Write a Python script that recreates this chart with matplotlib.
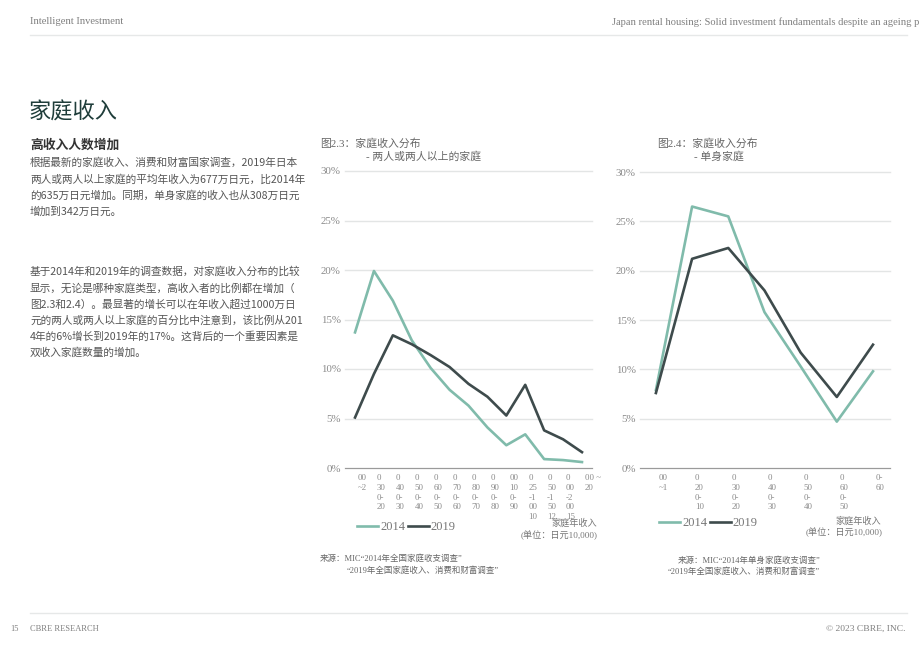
import numpy as np
import matplotlib.pyplot as plt
from matplotlib.transforms import blended_transform_factory, ScaledTranslation

# datos
bins_multi = ["00\n~2", "0\n30\n0-\n20", "0\n40\n0-\n30", "0\n50\n0-\n40", "0\n60\n0-\n50",
              "0\n70\n0-\n60", "0\n80\n0-\n70", "0\n90\n0-\n80", "00\n10\n0-\n90",
              "0\n25\n-1\n00\n10", "0\n50\n-1\n50\n12", "0\n00\n-2\n00\n15", "00 ~\n20"]
multi_2014 = [13.7, 19.9, 16.9, 12.9, 10.1, 7.9, 6.3, 4.1, 2.3, 3.4, 0.9, 0.8, 0.6]
multi_2019 = [5.1, 9.5, 13.4, 12.5, 11.4, 10.2, 8.5, 7.2, 5.3, 8.4, 3.8, 2.9, 1.6]

bins_single = ["00\n~1", "0\n20\n0-\n10", "0\n30\n0-\n20", "0\n40\n0-\n30",
               "0\n50\n0-\n40", "0\n60\n0-\n50", "0-\n60"]
single_2014 = [7.9, 26.5, 25.5, 15.8, 10.3, 4.7, 9.8]
single_2019 = [7.6, 21.2, 22.3, 18.0, 11.7, 7.2, 12.5]

yticks = [0, 5, 10, 15, 20, 25, 30]
years = ["2014", "2019"]

c14 = "#80bbab"
c19 = "#3e4b4c"
gris = "#7f7f7f"
serif = ["Liberation Serif", "Noto Sans CJK SC"]
cjk = ["Noto Sans CJK SC", "DejaVu Sans"]

W, H = 920, 651
fig = plt.figure(figsize=(W / 100, H / 100), dpi=100)


def px(x, y):
    return x / W, 1 - y / H


def texto(x, y, s, **kw):
    kw.setdefault("va", "center")
    fig.text(*px(x, y), s, **kw)


# encabezado y pie de página (el título de la derecha sale cortado en el original)
texto(30, 22, "Intelligent Investment", fontsize=7.6, color=gris, family=serif)
texto(919, 22, "Japan rental housing: Solid investment fundamentals despite an ageing p",
      fontsize=7.6, color=gris, family=serif, ha="right")
fig.add_artist(plt.Line2D([30 / W, 907 / W], [1 - 35 / H] * 2, color="#e6e8e8", lw=1))
fig.add_artist(plt.Line2D([30 / W, 907 / W], [1 - 613 / H] * 2, color="#e6e8e8", lw=1))
texto(10, 629, "15", fontsize=6, color=gris, family=serif)
texto(30, 629, "CBRE RESEARCH", fontsize=6, color=gris, family=serif)
texto(906, 629, "© 2023 CBRE, INC.", fontsize=6.8, color=gris, family=serif, ha="right")

# texto de la izquierda
texto(29, 112, "家庭收入", fontsize=16, color="#1f3d3a", family=cjk, weight="light")
texto(30, 145, "高收入人数增加", fontsize=9.2, color="#333333", family=cjk, weight="bold")
parrafo1 = ["根据最新的家庭收入、消费和财富国家调查，2019年日本",
            "两人或两人以上家庭的平均年收入为677万日元，比2014年",
            "的635万日元增加。同期，单身家庭的收入也从308万日元",
            "增加到342万日元。"]
parrafo2 = ["基于2014年和2019年的调查数据，对家庭收入分布的比较",
            "显示，无论是哪种家庭类型，高收入者的比例都在增加（",
            "图2.3和2.4）。最显著的增长可以在年收入超过1000万日",
            "元的两人或两人以上家庭的百分比中注意到，该比例从201",
            "4年的6%增长到2019年的17%。这背后的一个重要因素是",
            "双收入家庭数量的增加。"]
for i, linea in enumerate(parrafo1):
    texto(30, 163 + i * 16.3, linea, fontsize=7.7, color="#555555", family=cjk)
for i, linea in enumerate(parrafo2):
    texto(30, 272 + i * 16.1, linea, fontsize=7.7, color="#555555", family=cjk)


def grafico(rect, etiquetas, s14, s19, dx):
    ax = fig.add_axes(rect)
    x = np.arange(len(etiquetas))
    ax.plot(x, s14, color=c14, lw=1.9, label=years[0])
    ax.plot(x, s19, color=c19, lw=1.9, label=years[1])
    ax.set_ylim(0, 30)
    ax.set_xlim(-dx[0], len(etiquetas) - 1 + dx[1])
    ax.set_yticks(yticks)
    ax.set_yticklabels([f"{v}%" for v in yticks], family=serif, fontsize=7.8, color="#8a8a8a")
    ax.tick_params(axis="y", length=0, pad=3)
    ax.set_xticks([])
    ax.grid(axis="y", color="#e3e5e5", lw=1)
    for g in ax.get_ygridlines():
        g.set_clip_on(False)
    for s in ["top", "right", "left"]:
        ax.spines[s].set_visible(False)
    ax.spines["bottom"].set_color("#9a9a9a")
    ax.set_axisbelow(True)
    tr = blended_transform_factory(ax.transData, ax.transAxes) + \
        ScaledTranslation(3 / 100, -6 / 100, fig.dpi_scale_trans)
    for i, et in enumerate(etiquetas):
        ax.text(i, 0, et, transform=tr, ha="left", va="top", fontsize=6.4,
                color="#8a8a8a", family=serif, linespacing=1.3)
    return ax


ax1 = grafico([345 / W, 1 - 468 / H, 247 / W, 297 / H], bins_multi, multi_2014, multi_2019, (0.53, 0.53))
ax2 = grafico([640 / W, 1 - 468 / H, 250 / W, 296 / H], bins_single, single_2014, single_2019, (0.44, 0.47))

ley = dict(loc="center left", bbox_transform=fig.transFigure, ncol=2, frameon=False,
           handlelength=1.7, handletextpad=0.15, columnspacing=0.2, borderpad=0, borderaxespad=0,
           prop={"family": serif, "size": 9}, labelcolor="#777777")
ax1.legend(bbox_to_anchor=px(357, 527), **ley)
ax2.legend(bbox_to_anchor=px(659, 523), **ley)

# títulos de los gráficos
texto(320, 143, "图2.3：家庭收入分布", fontsize=7.8, color="#666666", family=serif)
texto(366, 156, "- 两人或两人以上的家庭", fontsize=7.8, color="#666666", family=serif)
texto(657, 143, "图2.4：家庭收入分布", fontsize=7.8, color="#666666", family=serif)
texto(694, 156, "- 单身家庭", fontsize=7.8, color="#666666", family=serif)

# unidades
texto(597, 523, "家庭年收入", fontsize=6.6, color="#777777", family=serif, ha="right")
texto(598, 535, "(单位：日元10,000)", fontsize=6.6, color="#777777", family=serif, ha="right")
texto(881, 521, "家庭年收入", fontsize=6.6, color="#777777", family=serif, ha="right")
texto(883, 532, "(单位：日元10,000)", fontsize=6.6, color="#777777", family=serif, ha="right")

# fuentes
texto(320, 558, "来源：MIC“2014年全国家庭收支调查”", fontsize=6.1, color="#666666", family=serif)
texto(347, 570, "“2019年全国家庭收入、消费和财富调查”", fontsize=6.1, color="#666666", family=serif)
texto(678, 560, "来源：MIC“2014年单身家庭收支调查”", fontsize=6.1, color="#666666", family=serif)
texto(668, 571, "“2019年全国家庭收入、消费和财富调查”", fontsize=6.1, color="#666666", family=serif)

fig.savefig("out.png", dpi=100)
